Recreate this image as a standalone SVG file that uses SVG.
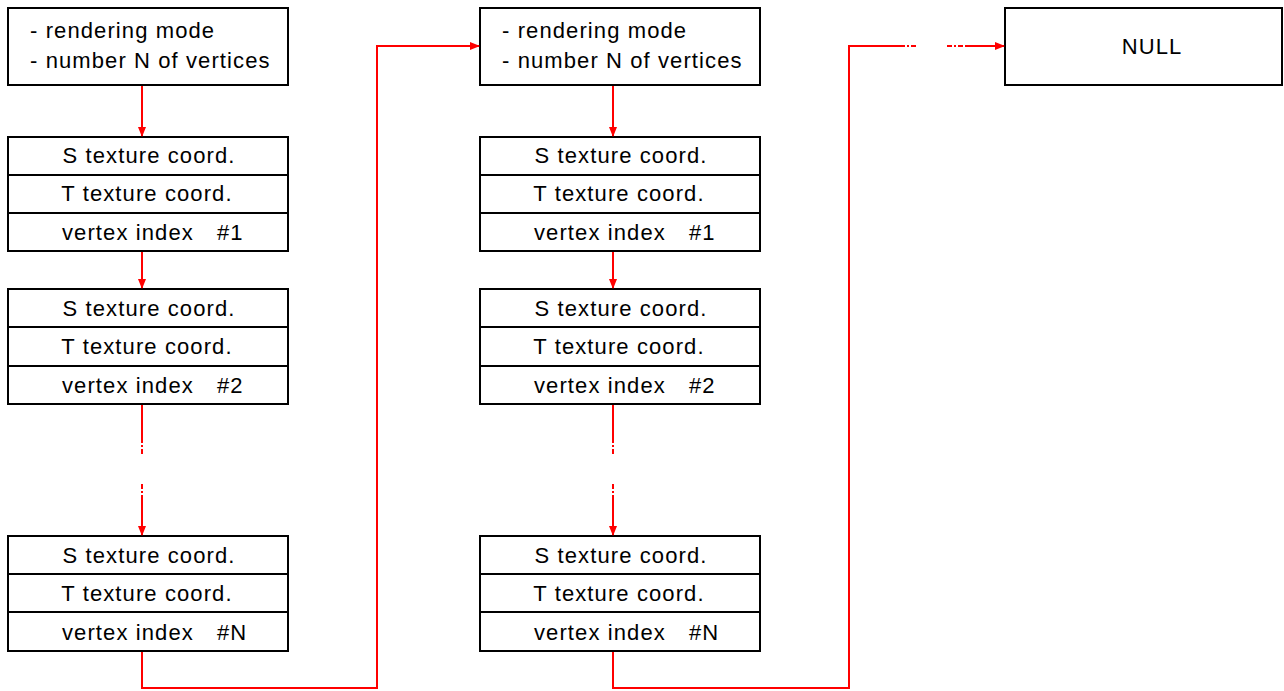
<svg xmlns="http://www.w3.org/2000/svg" width="1284" height="691" viewBox="0 0 1284 691">
<style>
.box{fill:#fff;stroke:#000;stroke-width:2}
.div{stroke:#000;stroke-width:2}
text{font-family:"Liberation Sans",Arial,sans-serif;font-size:22px;fill:#000;letter-spacing:1.1px}
.c{text-anchor:middle}
.con{fill:none;stroke:#f00;stroke-width:2}
.dash{fill:none;stroke:#f00;stroke-width:2;stroke-dasharray:5 2 2 2}
</style>
<defs>
<marker id="ah" markerWidth="10" markerHeight="10" refX="9" refY="5" orient="auto" markerUnits="userSpaceOnUse">
<path d="M0,1 L10,5 L0,9 Z" fill="#f00"/>
</marker>
</defs>
<rect width="1284" height="691" fill="#fff"/>
<g id="header1">
<rect class="box" x="8" y="8" width="280" height="77"/>
<text x="30" y="38">- rendering mode</text>
<text x="30" y="68">- number N of vertices</text>
</g>
<g id="v1a">
<rect class="box" x="8" y="137" width="280" height="114"/>
<line class="div" x1="8" y1="175" x2="288" y2="175"/>
<line class="div" x1="8" y1="213" x2="288" y2="213"/>
<text class="c" x="149" y="163">S texture coord.</text>
<text class="c" x="147" y="201">T texture coord.</text>
<text x="62" y="240">vertex index</text><text x="217" y="240">#1</text>
</g>
<g id="v2a">
<rect class="box" x="8" y="289" width="280" height="115"/>
<line class="div" x1="8" y1="327" x2="288" y2="327"/>
<line class="div" x1="8" y1="366" x2="288" y2="366"/>
<text class="c" x="149" y="316">S texture coord.</text>
<text class="c" x="147" y="354">T texture coord.</text>
<text x="62" y="393">vertex index</text><text x="217" y="393">#2</text>
</g>
<g id="vNa">
<rect class="box" x="8" y="536" width="280" height="115"/>
<line class="div" x1="8" y1="574" x2="288" y2="574"/>
<line class="div" x1="8" y1="612" x2="288" y2="612"/>
<text class="c" x="149" y="563">S texture coord.</text>
<text class="c" x="147" y="601">T texture coord.</text>
<text x="62" y="640">vertex index</text><text x="217" y="640">#N</text>
</g>
<g id="header2">
<rect class="box" x="480" y="8" width="280" height="77"/>
<text x="502" y="38">- rendering mode</text>
<text x="502" y="68">- number N of vertices</text>
</g>
<g id="v1b">
<rect class="box" x="480" y="137" width="280" height="114"/>
<line class="div" x1="480" y1="175" x2="760" y2="175"/>
<line class="div" x1="480" y1="213" x2="760" y2="213"/>
<text class="c" x="621" y="163">S texture coord.</text>
<text class="c" x="619" y="201">T texture coord.</text>
<text x="534" y="240">vertex index</text><text x="689" y="240">#1</text>
</g>
<g id="v2b">
<rect class="box" x="480" y="289" width="280" height="115"/>
<line class="div" x1="480" y1="327" x2="760" y2="327"/>
<line class="div" x1="480" y1="366" x2="760" y2="366"/>
<text class="c" x="621" y="316">S texture coord.</text>
<text class="c" x="619" y="354">T texture coord.</text>
<text x="534" y="393">vertex index</text><text x="689" y="393">#2</text>
</g>
<g id="vNb">
<rect class="box" x="480" y="536" width="280" height="115"/>
<line class="div" x1="480" y1="574" x2="760" y2="574"/>
<line class="div" x1="480" y1="612" x2="760" y2="612"/>
<text class="c" x="621" y="563">S texture coord.</text>
<text class="c" x="619" y="601">T texture coord.</text>
<text x="534" y="640">vertex index</text><text x="689" y="640">#N</text>
</g>
<g id="null">
<rect class="box" x="1005" y="8" width="277" height="77"/>
<text class="c" x="1152" y="54">NULL</text>
</g>
<g id="connectors">
<path class="con" d="M142,86 V136" marker-end="url(#ah)"/>
<path class="con" d="M142,252 V288" marker-end="url(#ah)"/>
<path class="con" d="M142,405 V438"/>
<path class="dash" d="M142,438 V456"/>
<path class="dash" d="M142,484 V500"/>
<path class="con" d="M142,500 V535" marker-end="url(#ah)"/>
<path class="con" d="M142,652 V688 H377 V46 H479" marker-end="url(#ah)"/>
<path class="con" d="M613,86 V136" marker-end="url(#ah)"/>
<path class="con" d="M613,252 V288" marker-end="url(#ah)"/>
<path class="con" d="M613,405 V438"/>
<path class="dash" d="M613,438 V456"/>
<path class="dash" d="M613,484 V500"/>
<path class="con" d="M613,500 V535" marker-end="url(#ah)"/>
<path class="con" d="M613,652 V688 H849 V46 H900"/>
<path class="dash" d="M900,46 H918"/>
<path class="dash" d="M947,46 H965"/>
<path class="con" d="M965,46 H1004" marker-end="url(#ah)"/>
</g>
</svg>
